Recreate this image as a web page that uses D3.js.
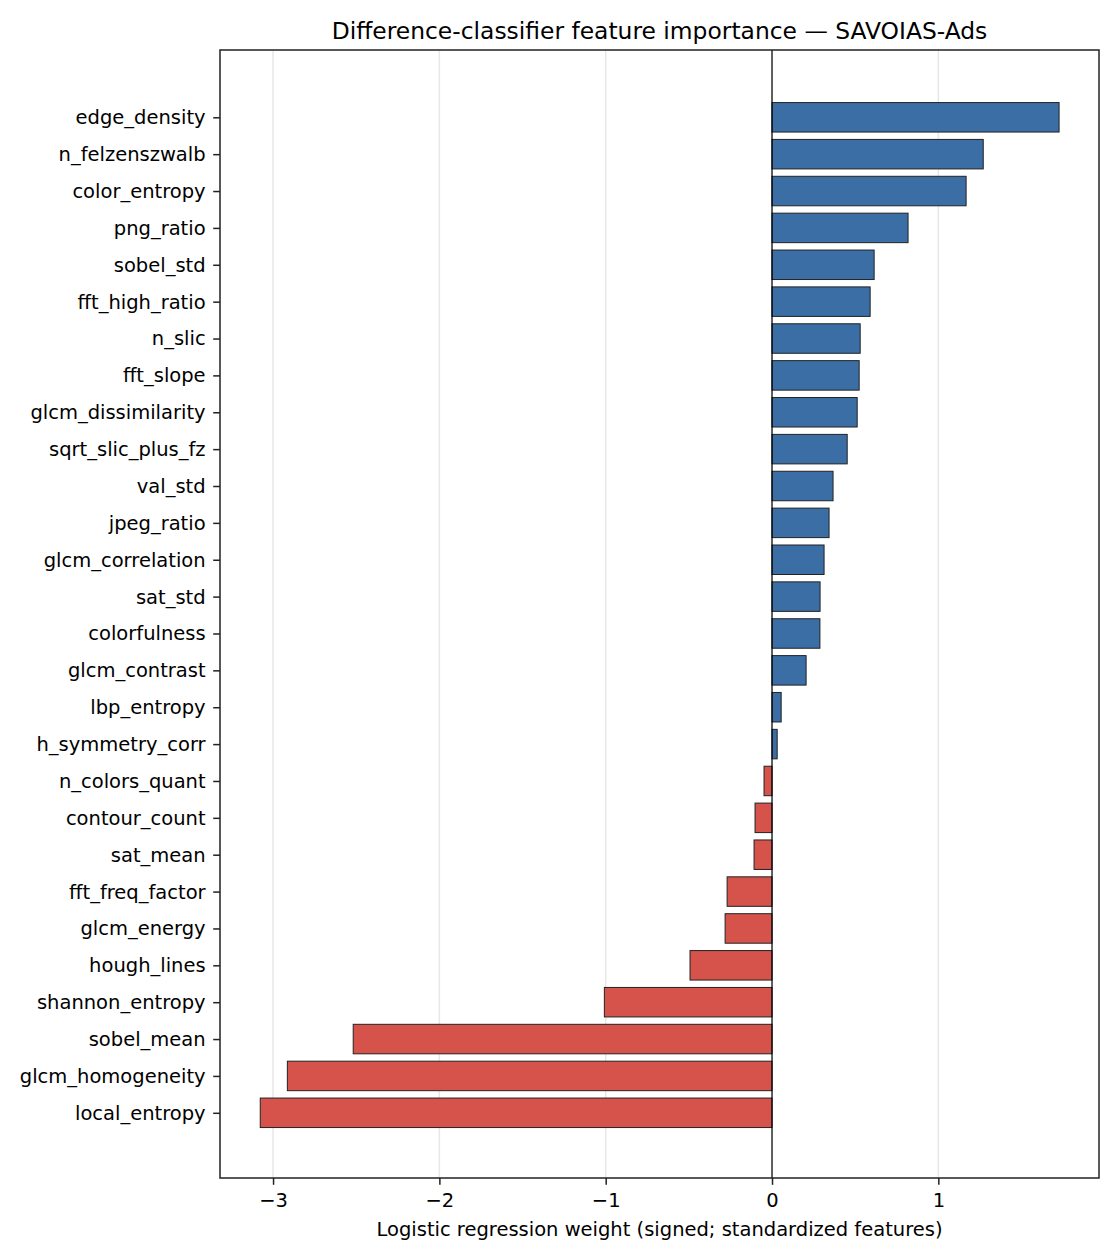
<!DOCTYPE html>
<html>
<head>
<meta charset="utf-8">
<script src="https://cdn.jsdelivr.net/npm/d3@7"></script>
<style>
  body { margin: 0; background: #fff; }
  svg text { font-family: "DejaVu Sans", sans-serif; fill: #000; }
</style>
</head>
<body>
<svg id="chart" width="1120" height="1260"></svg>
<script>
const features = [
  "edge_density", "n_felzenszwalb", "color_entropy", "png_ratio", "sobel_std",
  "fft_high_ratio", "n_slic", "fft_slope", "glcm_dissimilarity", "sqrt_slic_plus_fz",
  "val_std", "jpeg_ratio", "glcm_correlation", "sat_std", "colorfulness",
  "glcm_contrast", "lbp_entropy", "h_symmetry_corr", "n_colors_quant", "contour_count",
  "sat_mean", "fft_freq_factor", "glcm_energy", "hough_lines", "shannon_entropy",
  "sobel_mean", "glcm_homogeneity", "local_entropy"
];
const weights = [
  1.726, 1.270, 1.167, 0.818, 0.614,
  0.590, 0.530, 0.524, 0.512, 0.452,
  0.367, 0.343, 0.313, 0.289, 0.288,
  0.205, 0.055, 0.031, -0.048, -0.102,
  -0.108, -0.270, -0.282, -0.493, -1.008,
  -2.518, -2.914, -3.077
];
const xTicks = [-3, -2, -1, 0, 1];
const titleText = "Difference-classifier feature importance \u2014 SAVOIAS-Ads";
const xLabelText = "Logistic regression weight (signed; standardized features)";

const svg = d3.select("#chart");
const m = { left: 220, right: 1099, top: 50, bottom: 1178 };

const x = d3.scaleLinear().domain([-3.319, 1.966]).range([m.left, m.right]);
const n = features.length;
const y = d3.scaleLinear().domain([0, n - 1]).range([117.3, 1112.8]);
const barH = (y(1) - y(0)) * 0.8;

// grid
svg.append("g").selectAll("line").data(xTicks).join("line")
  .attr("x1", d => x(d)).attr("x2", d => x(d))
  .attr("y1", m.top).attr("y2", m.bottom)
  .attr("stroke", "#b0b0b0").attr("stroke-opacity", 0.3).attr("stroke-width", 1.5);

// bars
svg.append("g").selectAll("rect").data(weights).join("rect")
  .attr("x", d => Math.min(x(0), x(d)))
  .attr("width", d => Math.abs(x(d) - x(0)))
  .attr("y", (d, i) => y(i) - barH / 2)
  .attr("height", barH)
  .attr("fill", d => d >= 0 ? "#3a6ea5" : "#d6534b")
  .attr("stroke", "#222")
  .attr("stroke-width", 1.0);

// zero line
svg.append("line")
  .attr("x1", x(0)).attr("x2", x(0))
  .attr("y1", m.top).attr("y2", m.bottom)
  .attr("stroke", "#000").attr("stroke-width", 1.2);

// frame
svg.append("rect")
  .attr("x", m.left).attr("y", m.top)
  .attr("width", m.right - m.left).attr("height", m.bottom - m.top)
  .attr("fill", "none").attr("stroke", "#222").attr("stroke-width", 1.5);

// x axis
const xAxis = d3.axisBottom(x).tickValues(xTicks).tickSize(6.8).tickPadding(6.8)
  .tickFormat(d => d < 0 ? "\u2212" + Math.abs(d) : String(d));
const gx = svg.append("g").attr("transform", `translate(0,${m.bottom})`).call(xAxis);
gx.select(".domain").remove();
gx.selectAll(".tick line").attr("stroke", "#222").attr("stroke-width", 1.5);
gx.selectAll(".tick text").attr("font-size", 19.5).attr("y", 29).attr("dy", 0)
  .style("font-family", "'DejaVu Sans', sans-serif");

// y axis
const yAxis = d3.axisLeft(y).tickValues(d3.range(n)).tickSize(6.8).tickPadding(7.6)
  .tickFormat(i => features[i]);
const gy = svg.append("g").attr("transform", `translate(${m.left},0)`).call(yAxis);
gy.select(".domain").remove();
gy.selectAll(".tick line").attr("stroke", "#222").attr("stroke-width", 1.5);
gy.selectAll(".tick text").attr("font-size", 19.5).attr("dy", "0.33em")
  .style("font-family", "'DejaVu Sans', sans-serif");

// title
svg.append("text").attr("x", (m.left + m.right) / 2).attr("y", 38.5)
  .attr("text-anchor", "middle").attr("font-size", 23.4).text(titleText);

// x label
svg.append("text").attr("x", (m.left + m.right) / 2).attr("y", 1235.5)
  .attr("text-anchor", "middle").attr("font-size", 19.5).text(xLabelText);
</script>
</body>
</html>
